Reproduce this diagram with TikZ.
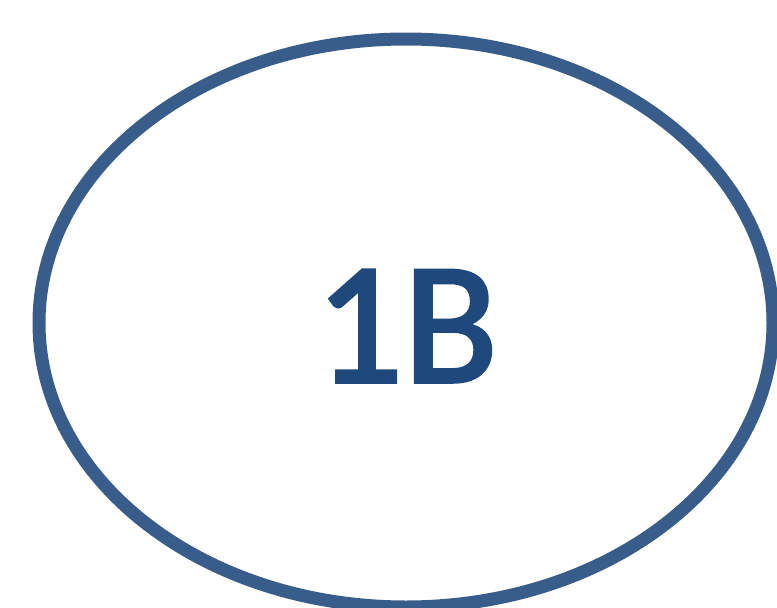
\documentclass[tikz,border=0pt]{standalone}
\usepackage{fontspec}
\setmainfont{Carlito}
\newfontface\labelface{Carlito}[FakeBold=2]
\definecolor{ringblue}{HTML}{385D8A}
\definecolor{textblue}{HTML}{1F497D}
\tikzset{ring/.style={draw=ringblue,line width=13pt}}
\begin{document}
\begin{tikzpicture}[x=1pt,y=-1pt]
\useasboundingbox (0,0) rectangle (777,608);
\draw[ring] (406,323) ellipse [x radius=367, y radius=284];
\node[text=textblue,font=\fontsize{174}{174}\labelface,inner sep=0pt,anchor=base] (lbl) at (406.5,382) {1B};
\end{tikzpicture}
\end{document}
